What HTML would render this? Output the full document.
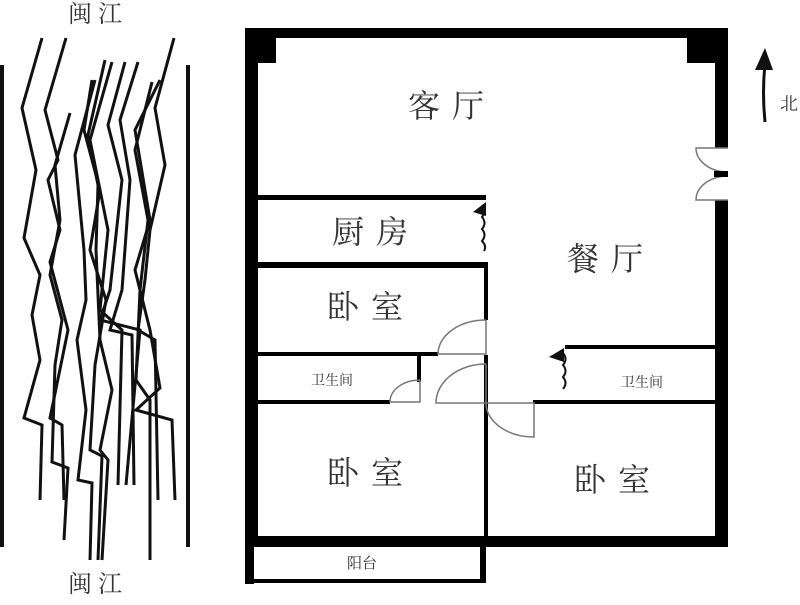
<!DOCTYPE html>
<html><head><meta charset="utf-8"><style>
body{margin:0;background:#fff;width:800px;height:600px;overflow:hidden}
svg text{font-family:"Liberation Serif","Noto Serif CJK SC",serif;fill:#333}
.big{letter-spacing:12px}
</style></head><body>
<svg width="800" height="600" viewBox="0 0 800 600" xmlns="http://www.w3.org/2000/svg">
<text x="95" y="22" font-size="24" text-anchor="middle">闽 江</text>
<text x="95" y="592" font-size="24" text-anchor="middle">闽 江</text>
<rect x="0" y="65" width="4" height="482" fill="#111"/>
<rect x="186" y="65" width="4" height="482" fill="#111"/>
<g fill="none" stroke="#111" stroke-width="3" stroke-linejoin="miter">
<polyline points="42,38 22,108 36,170 24,238 40,275 32,315 40,360 24,418 42,425 40,500"/>
<polyline points="66,38 45,110 58,160 48,180 60,230 50,262 68,330 50,418 62,425 64,500"/>
<polyline points="70,113 55,165 60,220 50,275 62,320 55,365 52,462 68,468 64,540"/>
<polyline points="95,80 75,155 84,250 86,300 77,340 86,410 78,480 92,483 90,560"/>
<polyline points="92,80 84,130 100,190 90,250 106,300 95,365 90,450 102,456 98,560"/>
<polyline points="105,60 88,135 98,185 96,250 100,340 112,390 100,450 108,460 102,560"/>
<polyline points="112,62 90,140 108,230 100,310 122,330 118,485"/>
<polyline points="125,62 108,125 122,180 110,290 100,320 140,330 126,485"/>
<polyline points="138,62 120,120 130,180 122,290 110,330 132,335 134,485"/>
<polyline points="152,82 135,150 148,220 140,290 136,380 150,400 150,560"/>
<polyline points="174,38 155,108 165,165 150,230 145,280 138,330 155,340 158,500"/>
<polyline points="160,80 135,130 150,220 135,270 150,330 160,388 136,410 172,420 175,500"/>
</g>
<g fill="#000">
<rect x="245" y="28" width="483" height="10"/>
<rect x="245" y="28" width="13" height="519"/>
<rect x="245" y="28" width="31" height="35"/>
<rect x="687" y="28" width="41" height="35"/>
<rect x="715" y="28" width="13" height="120"/>
<rect x="715" y="200" width="13" height="347"/>
<rect x="245" y="536" width="483" height="11"/>
<rect x="258" y="195" width="228" height="5"/>
<rect x="258" y="262" width="230" height="6"/>
<rect x="484" y="262" width="4" height="58"/>
<rect x="258" y="352" width="180" height="4"/>
<rect x="417" y="352" width="4" height="30"/>
<rect x="258" y="400" width="132" height="4"/>
<rect x="484" y="362" width="4" height="175"/>
<rect x="484" y="355" width="4" height="7"/>
<rect x="565" y="345" width="150" height="4"/>
<rect x="533" y="400" width="182" height="4"/>
<rect x="245" y="547" width="9" height="37"/>
<rect x="245" y="579" width="241" height="4"/>
<rect x="480" y="547" width="6" height="36"/>
</g>
<g fill="none" stroke="#777" stroke-width="1.5">
<path d="M486,320 L486,354 L438,354 A48,34 0 0 1 486,320"/>
<path d="M486,364 L486,403 L436,403 A50,39 0 0 1 486,364"/>
<path d="M420,380 L420,402 L390,402 A30,22 0 0 1 420,380"/>
<path d="M486,403 L534,403 L534,437 A48,34 0 0 1 486,403"/>
<path d="M728,148 L696,148 A32,24 0 0 0 728,172 M728,200 L696,200 A32,24 0 0 1 728,176"/>
</g>
<rect x="714" y="171" width="14" height="6" fill="#000"/>
<g fill="none" stroke="#111" stroke-width="2">
<path d="M482,205 q5,6 0,12 q5,6 0,12 q5,6 0,12 q5,5 2,10"/>
<path d="M563,353 q5,6 0,12 q5,6 0,12 q5,6 0,12"/>
<path d="M765,122 q-3,-30 0,-58" stroke-width="3"/>
</g>
<polygon points="473,212 486,202 486,216" fill="#111"/>
<polygon points="549,357 564,348 564,362" fill="#111"/>
<polygon points="755,70 765,48 773,70" fill="#111"/>
<text x="780" y="110" font-size="18" fill="#444">北</text>
<text class="big" x="452" y="117" font-size="32" text-anchor="middle">客厅</text>
<text class="big" x="376" y="243" font-size="32" text-anchor="middle">厨房</text>
<text class="big" x="371" y="318" font-size="32" text-anchor="middle">卧室</text>
<text x="332" y="385" font-size="14" text-anchor="middle" fill="#555">卫生间</text>
<text class="big" x="611" y="270" font-size="32" text-anchor="middle">餐厅</text>
<text x="642" y="387" font-size="14" text-anchor="middle" fill="#555">卫生间</text>
<text class="big" x="371" y="484" font-size="32" text-anchor="middle">卧室</text>
<text class="big" x="618" y="491" font-size="32" text-anchor="middle">卧室</text>
<text x="362" y="568" font-size="15" text-anchor="middle" fill="#555">阳台</text>
</svg>
</body></html>
